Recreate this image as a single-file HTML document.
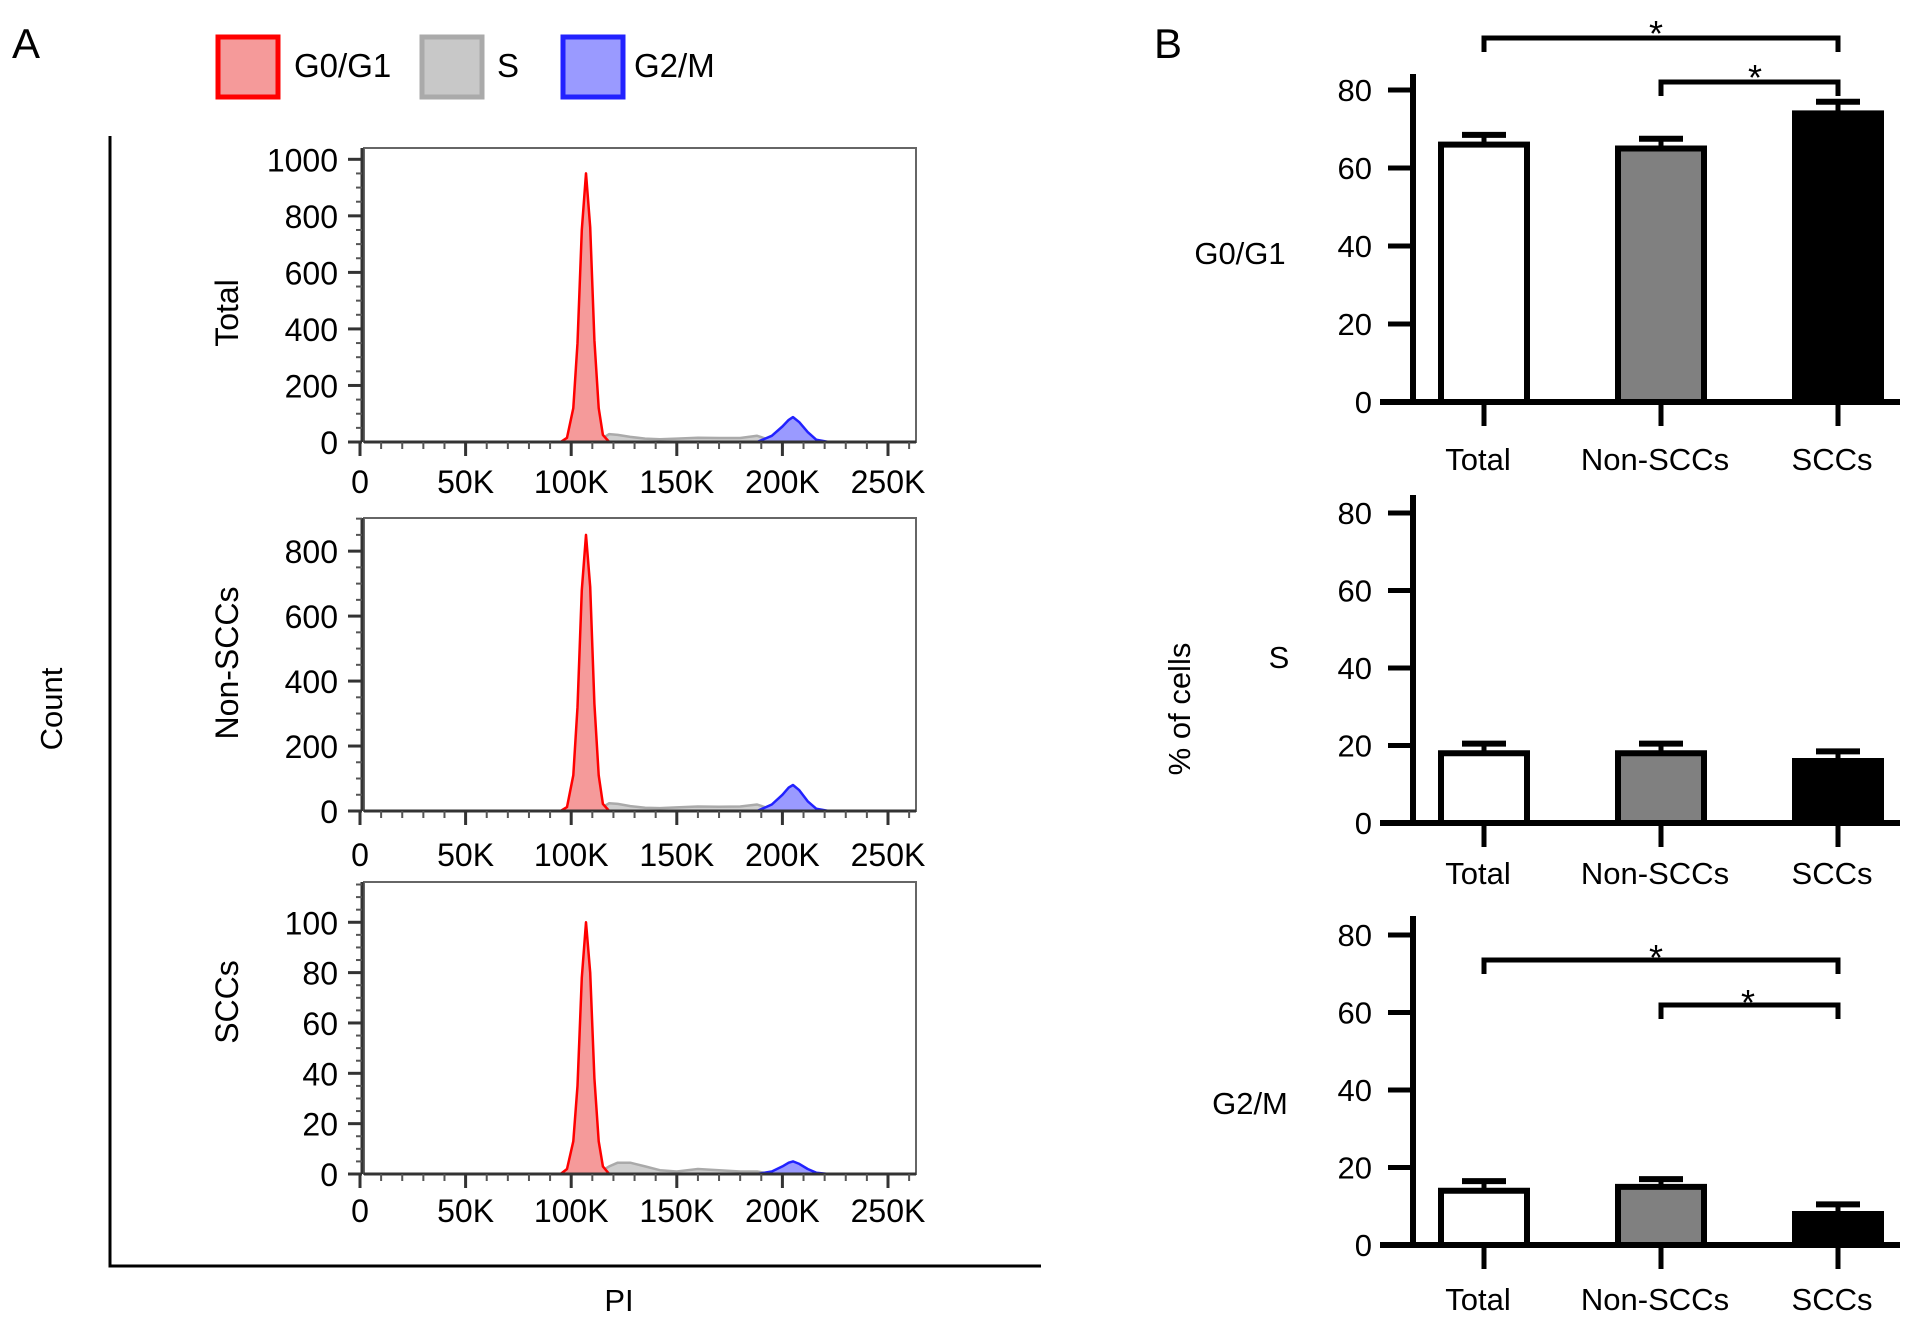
<!DOCTYPE html>
<html><head><meta charset="utf-8"><style>
html,body{margin:0;padding:0;background:#fff;}
svg{display:block;font-family:"Liberation Sans Narrow","Liberation Sans",sans-serif;}
</style></head><body>
<svg id="fig" width="1913" height="1322" viewBox="0 0 1913 1322" xmlns="http://www.w3.org/2000/svg">
<text x="12" y="58" font-size="42">A</text>
<text x="1154" y="58" font-size="42">B</text>
<g>
<rect x="218" y="37" width="60" height="60" fill="#f59a9a" stroke="#f00" stroke-width="5"/>
<text x="294" y="77" font-size="33">G0/G1</text>
<rect x="422" y="37" width="60" height="60" fill="#c8c8c8" stroke="#aaa" stroke-width="5"/>
<text x="497" y="77" font-size="33">S</text>
<rect x="563" y="37" width="60" height="60" fill="#9a9aff" stroke="#22f" stroke-width="5"/>
<text x="634" y="77" font-size="33">G2/M</text>
</g>
<path d="M110,136 V1266 H1041" fill="none" stroke="#000" stroke-width="3"/>
<text transform="translate(62,709) rotate(-90)" text-anchor="middle" font-size="31">Count</text>
<text x="619" y="1311" text-anchor="middle" font-size="31">PI</text>
<text transform="translate(1190,709) rotate(-90)" text-anchor="middle" font-size="31">% of cells</text>
<g id="hist"></g>
<g id="bars"></g>
</svg>
<script>
// ---- Histogram data (PI in K, counts) ----
const histNames = ["Total","Non-SCCs","SCCs"];
const g1X = [95,98,101,103,105,107,109,111,113,115,118];
const g1Total = [0,15,120,350,750,950,760,360,120,25,0];
const g1Non = [0,12,110,320,680,850,690,330,110,22,0];
const g1Scc = [0,2,13,35,78,100,80,38,13,3,0];
const sX = [112,118,122,128,135,142,150,160,170,180,188,195];
const sTotal = [0,28,25,18,12,10,12,15,14,14,22,5];
const sNon = [0,24,22,15,10,9,11,14,13,14,20,5];
const sScc = [0,3,4.5,4.5,3,1.5,1,2,1.5,1,1,0];
const g2X = [188,195,200,203,205,208,212,216,222];
const g2Total = [0,22,55,78,88,70,35,8,0];
const g2Non = [0,20,50,72,80,64,30,7,0];
const g2Scc = [0,1,3,4.5,5,4,2,0.5,0];
const yTicks1 = [0,200,400,600,800,1000];
const yTicks2 = [0,200,400,600,800];
const yTicks3 = [0,20,40,60,80,100];
const xTicks = [0,50,100,150,200,250];
const xTickLabels = ["0","50K","100K","150K","200K","250K"];

// ---- Bar data (% of cells) ----
const barCats = ["Total","Non-SCCs","SCCs"];
const g0g1Vals = [66,65,74];
const g0g1Err = [2.5,2.5,3];
const sVals = [18,18,16];
const sErr = [2.5,2.5,2.5];
const g2mVals = [14,15,8];
const g2mErr = [2.5,2,2.5];
const barYTicks = [0,20,40,60,80];

const NS="http://www.w3.org/2000/svg";
function mk(tag,attrs,parent){const e=document.createElementNS(NS,tag);for(const k in attrs)e.setAttribute(k,attrs[k]);parent.appendChild(e);return e;}

const hist=document.getElementById('hist');
const panels=[
 {name:"Total",top:148,zero:442,ymax:1040,ticks:yTicks1,minor:50,g1:g1Total,s:sTotal,g2:g2Total,tickY:493,lab:313},
 {name:"Non-SCCs",top:518,zero:811,ymax:902,ticks:yTicks2,minor:50,g1:g1Non,s:sNon,g2:g2Non,tickY:866,lab:663},
 {name:"SCCs",top:882,zero:1174,ymax:116,ticks:yTicks3,minor:5,g1:g1Scc,s:sScc,g2:g2Scc,tickY:1222,lab:1002}
];
const xs=v=>360+v*2.112;
panels.forEach((p,i)=>{
 const g=mk('g',{},hist);
 
 
 const ys=v=>p.zero-(v/p.ymax)*(p.zero-p.top);
 const box=mk('rect',{x:364,y:p.top,width:552,height:p.zero-p.top,fill:"none",stroke:"#666","stroke-width":2},g);
 
 
 function area(X,Y,fill,stroke,name){
  let d="M"+xs(X[0])+","+ys(0);
  X.forEach((x,j)=>{d+=" L"+xs(x).toFixed(1)+","+ys(Y[j]).toFixed(1);});
  d+=" L"+xs(X[X.length-1])+","+ys(0)+" Z";
  const pth=mk('path',{d:d,fill:fill,stroke:stroke,"stroke-width":2.5,"stroke-linejoin":"round"},g);
  
  
 }
 area(sX,p.s,"#cfcfcf","#aaa","s-phase-area");
 area(g2X,p.g2,"#9a9aff","#22f","g2m-area");
 area(g1X,p.g1,"#f59a9a","#f00","g0g1-area");
 mk('line',{x1:364,y1:p.zero,x2:916,y2:p.zero,stroke:"#333","stroke-width":3},g);
 mk('line',{x1:362,y1:p.top,x2:362,y2:p.zero,stroke:"#333","stroke-width":3},g);
 for(let v=0;v<=p.ymax;v+=p.minor){mk('line',{x1:356,y1:ys(v),x2:362,y2:ys(v),stroke:"#555","stroke-width":2},g);}
 p.ticks.forEach(v=>{
  mk('line',{x1:348,y1:ys(v),x2:362,y2:ys(v),stroke:"#333","stroke-width":3},g);
  const t=mk('text',{x:338,y:ys(v)+12,"text-anchor":"end","font-size":32},g);t.textContent=v;
  
  
 });
 for(let v=0;v<=260;v+=10){mk('line',{x1:xs(v),y1:p.zero,x2:xs(v),y2:p.zero+7,stroke:"#555","stroke-width":2},g);}
 xTicks.forEach((v,j)=>{
  mk('line',{x1:xs(v),y1:p.zero,x2:xs(v),y2:p.zero+14,stroke:"#333","stroke-width":3},g);
  const t=mk('text',{x:xs(v),y:p.tickY,"text-anchor":"middle","font-size":32},g);t.textContent=xTickLabels[j];
  
  
 });
 const lb=mk('text',{transform:"translate(238,"+p.lab+") rotate(-90)","text-anchor":"middle","font-size":32},g);lb.textContent=p.name;
 
 
});

const bars=document.getElementById('bars');
const fills=["#fff","#808080","#000"];
const barCx=[1484,1661,1838];
const charts=[
 {name:"G0/G1",vals:g0g1Vals,err:g0g1Err,zero:402,v80:90,axTop:74,labY:470,lab:[1240,264],sig:[[0,2,38,1656,30],[1,2,82,1755,74]]},
 {name:"S",vals:sVals,err:sErr,zero:823,v80:513,axTop:495,labY:884,lab:[1279,668],sig:[]},
 {name:"G2/M",vals:g2mVals,err:g2mErr,zero:1245,v80:935,axTop:916,labY:1310,lab:[1250,1114],sig:[[0,2,960,1656,954],[1,2,1005,1748,999]]}
];
charts.forEach(c=>{
 const g=mk('g',{},bars);
 
 
 const ys=v=>c.zero-v/80*(c.zero-c.v80);
 mk('line',{x1:1413,y1:c.axTop,x2:1413,y2:c.zero,stroke:"#000","stroke-width":6},g);
 mk('line',{x1:1380,y1:c.zero,x2:1900,y2:c.zero,stroke:"#000","stroke-width":6},g);
 barYTicks.forEach(v=>{
  mk('line',{x1:1388,y1:ys(v),x2:1413,y2:ys(v),stroke:"#000","stroke-width":5},g);
  const t=mk('text',{x:1372,y:ys(v)+11,"text-anchor":"end","font-size":31},g);t.textContent=v;
  
  
 });
 c.vals.forEach((v,j)=>{
  const cx=barCx[j];
  const e=c.err[j];
  mk('line',{x1:cx,y1:ys(v),x2:cx,y2:ys(v+e),stroke:"#000","stroke-width":5},g);
  mk('line',{x1:cx-22,y1:ys(v+e),x2:cx+22,y2:ys(v+e),stroke:"#000","stroke-width":6},g);
  const r=mk('rect',{x:cx-43,y:ys(v),width:86,height:c.zero-ys(v),fill:fills[j],stroke:"#000","stroke-width":6},g);
  
  
  mk('line',{x1:cx,y1:c.zero,x2:cx,y2:c.zero+24,stroke:"#000","stroke-width":5},g);
  const t=mk('text',{x:cx-6,y:c.labY,"text-anchor":"middle","font-size":31},g);t.textContent=barCats[j];
  
  
 });
 c.sig.forEach(s=>{
  const x1=barCx[s[0]],x2=barCx[s[1]],y=s[2];
  const b=mk('path',{d:"M"+x1+","+(y+14)+" V"+y+" H"+x2+" V"+(y+14),fill:"none",stroke:"#000","stroke-width":5},g);
  
  
  const st=mk('text',{x:s[3],y:s[4]+16,"text-anchor":"middle","font-size":36},g);st.textContent="*";
  
  
 });
 const lb=mk('text',{x:c.lab[0],y:c.lab[1],"text-anchor":"middle","font-size":31},g);lb.textContent=c.name;
 
 
});
</script>
</body></html>
